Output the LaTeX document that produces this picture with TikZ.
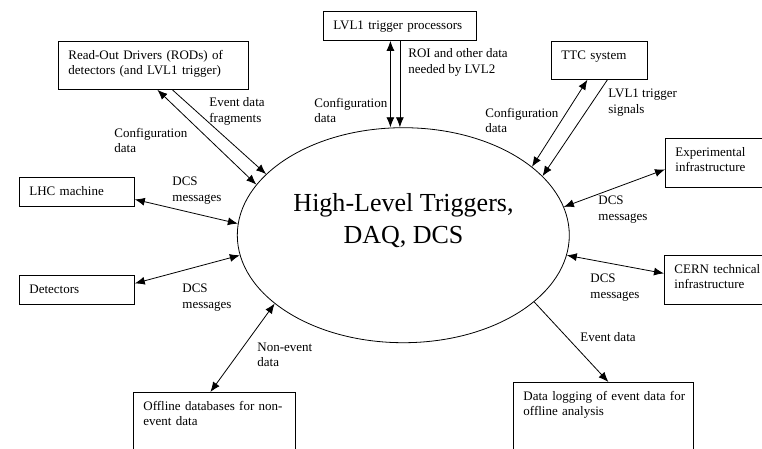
\documentclass[tikz,border=0pt]{standalone}
\usepackage{fontspec}
\setmainfont{Liberation Serif}
\usetikzlibrary{shapes.geometric,arrows.meta}

\begin{document}
\begin{tikzpicture}[x=1pt,y=-1pt,line width=0.8pt,
        txt/.style={font=\fontsize{13}{15.5}\selectfont},
        unit/.style={txt,draw,anchor=north west,align=left,
          inner xsep=10pt,inner ysep=0pt,text height=18pt},
        note/.style={txt,anchor=north west,align=left,inner sep=0pt},
        flow/.style={-{Latex[length=10pt,width=8pt]}},
        dflow/.style={{Latex[length=10pt,width=8pt]}-{Latex[length=10pt,width=8pt]}}]
        \useasboundingbox (0,0) rectangle (762,448) ;
        \clip (0,0) rectangle (762,448) ;
        %\draw[very thin,gray,step=50] (0,0) grid (762,448) ;
        \node[draw,ellipse,minimum width=332pt,minimum height=215pt,inner sep=0pt]
        (hlt) at (403.3,235.2) {} ;
        \node[align=center,font=\fontsize{26}{32}\selectfont] (hlttext) at (403.5,221)
        {High-Level Triggers,\\DAQ, DCS} ;
        % boxes round the system
        \node[unit,text width=170pt,text depth=30pt] (rod) at (58,41)
        {\mbox{Read-Out Drivers (RODs) of}\\\mbox{detectors (and LVL1 trigger)}} ;
        \node[unit,text width=133pt,text depth=11pt] (lvl1) at (323,11) {\mbox{LVL1 trigger processors}} ;
        \node[unit,text width=76pt,text depth=20pt] (ttc) at (551,41) {TTC system} ;
        \node[unit,text width=76.5pt,text depth=31pt] (exp) at (665,138) {\mbox{Experimental}\\\mbox{infrastructure}} ;
        \node[unit,text width=95pt,text depth=11pt] (lhc) at (19,177) {LHC machine} ;
        \node[unit,text width=95pt,text depth=11pt] (det) at (19,275) {Detectors} ;
        \node[unit,text width=77.5pt,text depth=31pt] (cern) at (664,255) {\mbox{CERN technical}\\\mbox{infrastructure}} ;
        \node[unit,text width=142pt,text depth=50pt] (offl) at (133,392) {\mbox{Offline databases for non-}\\event data} ;
        \node[unit,text width=160pt,text depth=60pt] (dlog) at (513,382) {\mbox{Data logging of event data for}\\offline analysis} ;
        % connectors
        \draw[dflow] ([xshift=4pt]rod.south) -- (hlt.161.5) ;
        \draw[flow] ([xshift=19pt]rod.south) -- (hlt.156.5) ;
        \coordinate (cfgin) at ([xshift=-9.5pt]lvl1.south) ;
        \draw[dflow] (cfgin) -- (cfgin |- hlt.north) ;
        \draw[flow] (lvl1.south) -- (lvl1.south |- hlt.north) ;
        \draw[dflow] ([xshift=-12pt]ttc.south) -- (hlt.28) ;
        \draw[flow] ([xshift=8pt]ttc.south) -- (hlt.23.9) ;
        \draw[dflow] (hlt.10.8) -- ([yshift=-6.5pt]exp.west) ;
        \draw[dflow] (hlt.-7.3) -- ([yshift=6.5pt]cern.west) ;
        \draw[flow] (hlt.-27.8) -- ([xshift=5pt]dlog.north) ;
        \draw[dflow] ([yshift=-7.5pt]lhc.east) -- (hlt.176.5) ;
        \draw[dflow] ([yshift=6.5pt]det.east) -- (hlt.187.4) ;
        \draw[dflow] ([xshift=-4pt]offl.north) -- (hlt.208.5) ;
        % texts on the flows
        \node[note] (evfrag) at (209,97.5) {Event data\\fragments} ;
        \node[note] (rodcfg) at (114,127.5) {Configuration\\data} ;
        \node[note] (roi) at (408,48.5) {ROI and other data\\needed by LVL2} ;
        \node[note] (lvlcfg) at (314,97.5) {Configuration\\data} ;
        \node[note] (ttccfg) at (485,107.5) {Configuration\\data} ;
        \node[note] (lvlsig) at (608,88.5) {LVL1 trigger\\signals} ;
        \node[note] (lhcdcs) at (172,176.5) {DCS\\messages} ;
        \node[note] (detdcs) at (182,283.5) {DCS\\messages} ;
        \node[note] (expdcs) at (598,195.5) {DCS\\messages} ;
        \node[note] (cerndcs) at (590,273.5) {DCS\\messages} ;
        \node[note] (evdata) at (580,332.5) {Event data} ;
        \node[note] (nonev) at (257,342.5) {Non-event\\data} ;
\end{tikzpicture}
\end{document}
